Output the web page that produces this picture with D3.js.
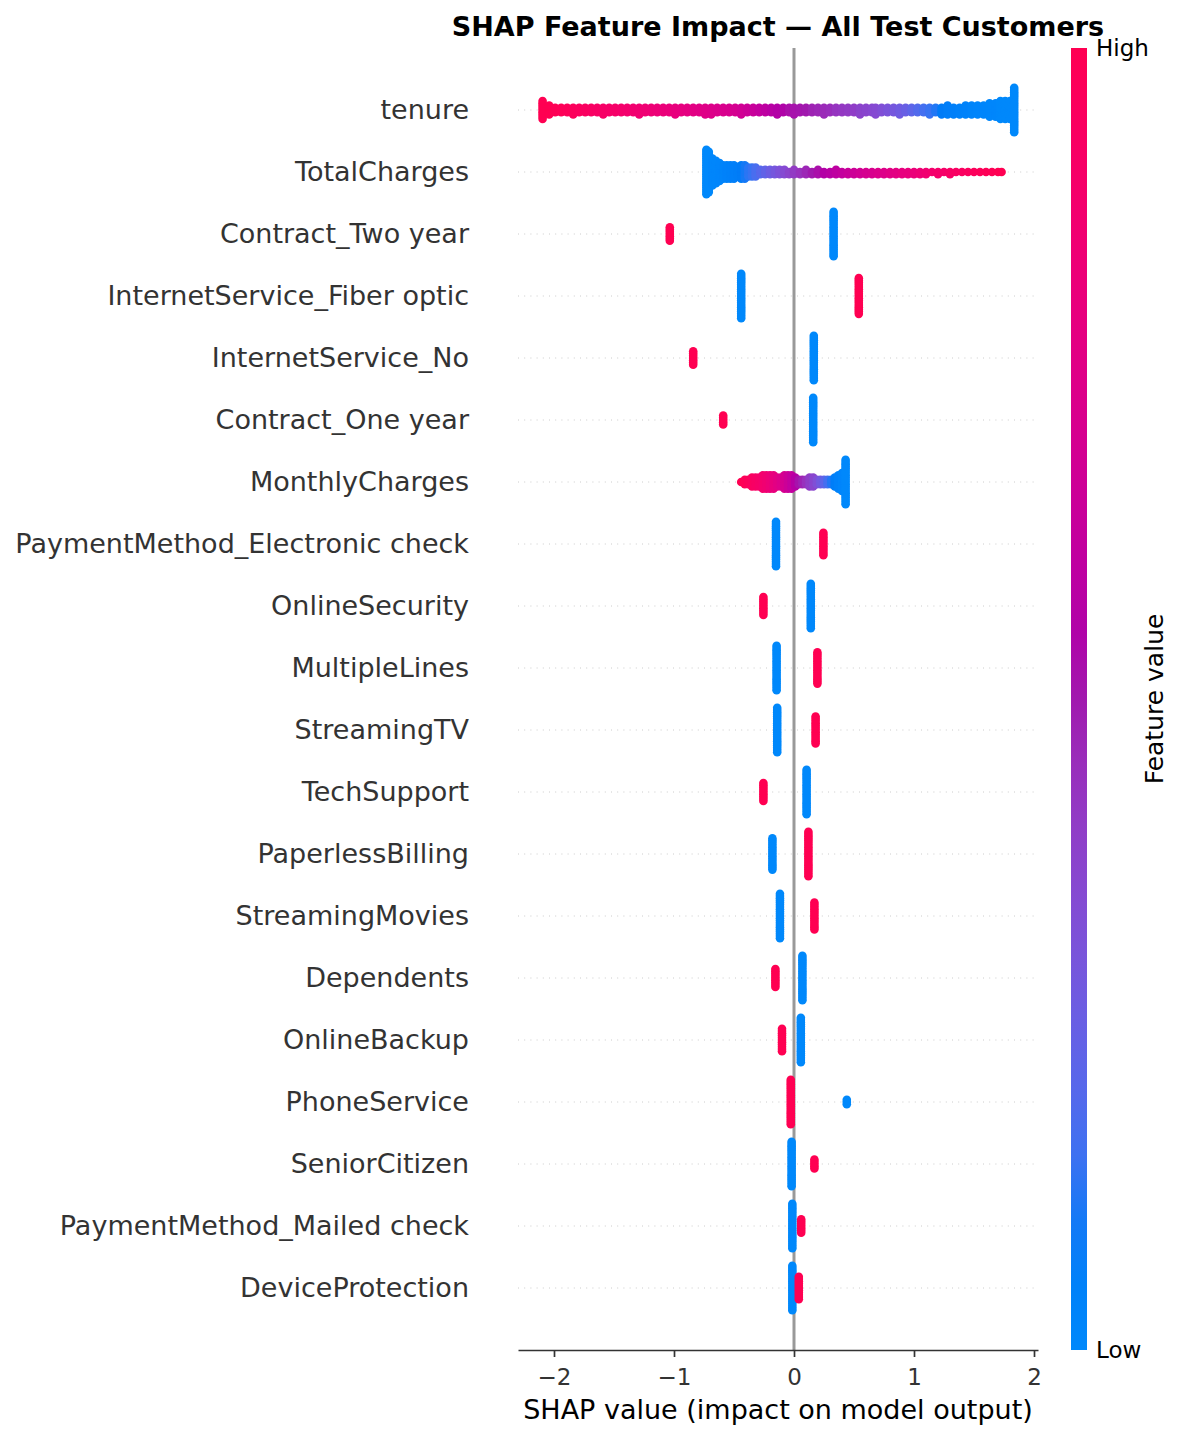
<!DOCTYPE html>
<html>
<head>
<meta charset="utf-8">
<script src="https://cdn.jsdelivr.net/npm/d3@7"></script>
<style>
  body { margin: 0; background: #fff; }
  svg { display: block; font-family: "DejaVu Sans", sans-serif; }
</style>
</head>
<body>
<script>
// features, top to bottom
const features = [
  "tenure", "TotalCharges", "Contract_Two year", "InternetService_Fiber optic",
  "InternetService_No", "Contract_One year", "MonthlyCharges",
  "PaymentMethod_Electronic check", "OnlineSecurity", "MultipleLines",
  "StreamingTV", "TechSupport", "PaperlessBilling", "StreamingMovies",
  "Dependents", "OnlineBackup", "PhoneService", "SeniorCitizen",
  "PaymentMethod_Mailed check", "DeviceProtection"
];

// each entry: [shap value, feature value (0 = low, 1 = high), dots stacked at that x]
const tenure = [
  [-2.095,1.00,9],[-2.04,1.00,5],[-1.99,0.99,3],[-1.94,0.98,3],[-1.89,0.97,3],[-1.84,0.96,4],
  [-1.79,0.95,3],[-1.74,0.94,3],[-1.69,0.93,3],[-1.64,0.92,3],[-1.59,0.91,4],[-1.54,0.90,3],
  [-1.49,0.90,3],[-1.44,0.89,3],[-1.39,0.88,3],[-1.34,0.87,3],[-1.29,0.86,4],[-1.24,0.85,3],
  [-1.19,0.84,3],[-1.14,0.83,3],[-1.09,0.82,3],[-1.04,0.81,3],[-0.99,0.80,4],[-0.94,0.79,3],
  [-0.89,0.78,3],[-0.84,0.77,3],[-0.79,0.76,3],[-0.74,0.75,4],[-0.69,0.74,4],[-0.64,0.73,3],
  [-0.59,0.72,3],[-0.54,0.71,3],[-0.49,0.70,3],[-0.44,0.68,4],[-0.39,0.66,3],[-0.34,0.64,3],
  [-0.29,0.62,3],[-0.24,0.60,3],[-0.19,0.58,3],[-0.14,0.56,4],[-0.09,0.55,3],[-0.04,0.53,3],
  [0.00,0.52,4],[0.05,0.51,3],[0.10,0.50,3],[0.15,0.48,3],[0.20,0.47,3],[0.25,0.46,4],
  [0.30,0.45,3],[0.35,0.43,3],[0.40,0.42,3],[0.45,0.41,3],[0.50,0.40,3],[0.55,0.38,4],
  [0.60,0.37,3],[0.65,0.36,3],[0.68,0.35,4],[0.73,0.33,3],[0.78,0.31,3],[0.83,0.29,3],
  [0.88,0.27,4],[0.93,0.25,3],[0.98,0.22,3],[1.03,0.19,3],[1.08,0.16,3],[1.13,0.14,4],
  [1.18,0.11,3],[1.23,0.09,4],[1.28,0.07,5],[1.33,0.06,4],[1.38,0.05,4],[1.43,0.04,5],
  [1.48,0.03,5],[1.53,0.02,5],[1.58,0.02,5],[1.63,0.01,7],[1.68,0.01,7],[1.72,0.00,9],
  [1.76,0.00,9],[1.80,0.00,9],[1.835,0.00,21]
];
const totalCharges = [
  [-0.73,0.00,21],[-0.71,0.00,19],[-0.68,0.01,13],[-0.65,0.01,11],[-0.62,0.02,9],[-0.59,0.03,7],
  [-0.56,0.04,7],[-0.53,0.05,7],[-0.50,0.06,7],[-0.47,0.07,5],[-0.44,0.08,7],[-0.41,0.10,7],
  [-0.38,0.12,5],[-0.35,0.14,5],[-0.32,0.17,5],[-0.28,0.20,3],[-0.24,0.23,3],[-0.20,0.26,3],
  [-0.16,0.29,3],[-0.12,0.32,3],[-0.08,0.35,3],[-0.04,0.38,2],[0.00,0.41,3],[0.05,0.44,2],
  [0.10,0.47,3],[0.15,0.50,2],[0.20,0.53,3],[0.25,0.56,2],[0.30,0.58,2],[0.35,0.60,3],
  [0.40,0.62,2],[0.45,0.64,2],[0.50,0.66,2],[0.55,0.68,2],[0.60,0.70,2],[0.65,0.71,2],
  [0.70,0.73,2],[0.75,0.74,2],[0.80,0.76,2],[0.85,0.77,2],[0.90,0.79,2],[0.95,0.80,2],
  [1.00,0.82,2],[1.05,0.84,2],[1.10,0.86,2],[1.15,0.88,1],[1.20,0.89,2],[1.25,0.90,1],
  [1.30,0.92,2],[1.35,0.93,1],[1.40,0.94,1],[1.45,0.95,1],[1.50,0.96,1],[1.55,0.97,1],
  [1.60,0.98,1],[1.65,0.99,1],[1.70,1.00,1],[1.73,1.00,1]
];
const contractTwoYear = [[0.33,0,21],[-1.035,1,7]];
const fiberOptic = [[-0.44,0,21],[0.54,1,17]];
const internetNo = [[0.165,0,21],[-0.84,1,7]];
const contractOneYear = [[0.16,0,21],[-0.59,1,5]];
const monthlyCharges = [
  [-0.44,1.00,1],[-0.41,0.98,3],[-0.38,0.96,3],[-0.35,0.94,5],[-0.32,0.92,5],[-0.29,0.90,5],
  [-0.26,0.88,7],[-0.23,0.86,7],[-0.20,0.83,7],[-0.17,0.80,7],[-0.14,0.77,5],[-0.11,0.74,5],
  [-0.08,0.70,7],[-0.05,0.66,7],[-0.02,0.62,7],[0.01,0.57,5],[0.04,0.52,3],[0.07,0.48,3],
  [0.10,0.44,3],[0.13,0.40,5],[0.16,0.37,5],[0.19,0.33,3],[0.22,0.28,3],[0.25,0.22,3],
  [0.28,0.16,3],[0.31,0.11,3],[0.34,0.07,5],[0.37,0.04,7],[0.40,0.02,9],[0.43,0.00,21]
];
const pmElectronic = [[-0.15,0,21],[0.245,1,11]];
const onlineSecurity = [[0.14,0,21],[-0.255,1,9]];
const multipleLines = [[-0.145,0,21],[0.195,1,15]];
const streamingTV = [[-0.14,0,21],[0.18,1,13]];
const techSupport = [[0.105,0,21],[-0.255,1,9]];
const paperlessBilling = [[-0.18,0,15],[0.12,1,21]];
const streamingMovies = [[-0.117,0,21],[0.17,1,13]];
const dependents = [[0.07,0,21],[-0.155,1,9]];
const onlineBackup = [[0.057,0,21],[-0.10,1,11]];
const phoneService = [[0.44,0,3],[-0.027,1,21]];
const seniorCitizen = [[-0.02,0,21],[0.17,1,5]];
const pmMailed = [[-0.014,0,21],[0.06,1,7]];
const deviceProtection = [[-0.014,0,21],[0.04,1,11]];

const shapData = [
  tenure, totalCharges, contractTwoYear, fiberOptic, internetNo, contractOneYear,
  monthlyCharges, pmElectronic, onlineSecurity, multipleLines, streamingTV, techSupport,
  paperlessBilling, streamingMovies, dependents, onlineBackup, phoneService,
  seniorCitizen, pmMailed, deviceProtection
];
const xTicks = [-2, -1, 0, 1, 2];

// shap red-blue colormap (LCH, lightness dips in the middle)
function shapColor(t) {
  const L = t < 0.5 ? 54 - 14 * (t / 0.5) : 40 + 14 * ((t - 0.5) / 0.5);
  const C = 70 + 20 * t;
  const H = 266.93 + (380.32 - 266.93) * t;
  return d3.hcl(H % 360, C, L).formatHex();
}

const width = 1185, height = 1435;
const plotLeft = 518, plotRight = 1038, plotTop = 48, plotBottom = 1350;

const svg = d3.select('body').append('svg')
  .attr('width', width)
  .attr('height', height);

const x = d3.scaleLinear().domain([-2.3, 2.0333]).range([plotLeft, plotRight]);
const y = d3.scaleLinear().domain([-1, features.length]).range([plotTop, plotBottom]);

// dotted row guides
svg.append('g').selectAll('line')
  .data(features)
  .join('line')
  .attr('x1', plotLeft).attr('x2', plotRight)
  .attr('y1', (d, i) => y(i)).attr('y2', (d, i) => y(i))
  .attr('stroke', '#cccccc')
  .attr('stroke-width', 1)
  .attr('stroke-dasharray', '1,5.2');

// zero line
svg.append('line')
  .attr('x1', x(0)).attr('x2', x(0))
  .attr('y1', plotTop).attr('y2', plotBottom)
  .attr('stroke', '#999999')
  .attr('stroke-width', 3);

// beeswarm dots
const maxOffset = 0.36 * (y(1) - y(0));
const dots = [];
shapData.forEach((arr, i) => {
  const maxLayer = d3.max(arr, d => Math.floor(d[2] / 2)) || 1;
  const step = maxOffset / maxLayer;
  arr.forEach(d => {
    for (let k = 0; k < d[2]; k++) {
      const layer = k === 0 ? 0 : (k % 2 ? (k + 1) / 2 : -k / 2);
      dots.push({ s: d[0], v: d[1], cy: y(i) + layer * step });
    }
  });
});

svg.append('g').selectAll('circle')
  .data(dots)
  .join('circle')
  .attr('cx', d => x(d.s))
  .attr('cy', d => d.cy)
  .attr('r', 4.3)
  .attr('fill', d => shapColor(d.v));

// feature names
svg.append('g').selectAll('text')
  .data(features)
  .join('text')
  .attr('x', 469)
  .attr('y', (d, i) => y(i))
  .attr('dy', '0.35em')
  .attr('text-anchor', 'end')
  .attr('font-size', 27)
  .attr('fill', '#333333')
  .text(d => d);

// x axis
const xAxis = svg.append('g')
  .attr('transform', `translate(0,${plotBottom})`)
  .call(d3.axisBottom(x).tickValues(xTicks).tickFormat(d3.format('d'))
    .tickSize(7).tickSizeOuter(0).tickPadding(12));
xAxis.select('.domain').attr('stroke', '#333333').attr('stroke-width', 1.7);
xAxis.selectAll('.tick line').attr('stroke', '#333333').attr('stroke-width', 1.7);
xAxis.selectAll('.tick text')
  .attr('font-size', 23)
  .attr('font-family', '"DejaVu Sans", sans-serif')
  .attr('fill', '#333333');

svg.append('text')
  .attr('x', (plotLeft + plotRight) / 2)
  .attr('y', 1419)
  .attr('text-anchor', 'middle')
  .attr('font-size', 27)
  .attr('fill', '#000')
  .text('SHAP value (impact on model output)');

// title
svg.append('text')
  .attr('x', (plotLeft + plotRight) / 2)
  .attr('y', 35.5)
  .attr('text-anchor', 'middle')
  .attr('font-size', 27)
  .attr('font-weight', 'bold')
  .attr('fill', '#000')
  .text('SHAP Feature Impact — All Test Customers');

// colour bar
const grad = svg.append('defs').append('linearGradient')
  .attr('id', 'cbar')
  .attr('x1', 0).attr('y1', 1).attr('x2', 0).attr('y2', 0);
grad.selectAll('stop')
  .data(d3.range(0, 1.0001, 0.05))
  .join('stop')
  .attr('offset', d => d)
  .attr('stop-color', d => shapColor(d));

svg.append('rect')
  .attr('x', 1071).attr('y', plotTop)
  .attr('width', 16).attr('height', plotBottom - plotTop)
  .attr('fill', 'url(#cbar)');

svg.append('text')
  .attr('x', 1096).attr('y', plotTop).attr('dy', '0.35em')
  .attr('font-size', 23).attr('fill', '#000')
  .text('High');
svg.append('text')
  .attr('x', 1096).attr('y', plotBottom).attr('dy', '0.35em')
  .attr('font-size', 23).attr('fill', '#000')
  .text('Low');
svg.append('text')
  .attr('transform', `translate(1163,${(plotTop + plotBottom) / 2}) rotate(-90)`)
  .attr('text-anchor', 'middle')
  .attr('font-size', 25).attr('fill', '#000')
  .text('Feature value');
</script>
</body>
</html>
